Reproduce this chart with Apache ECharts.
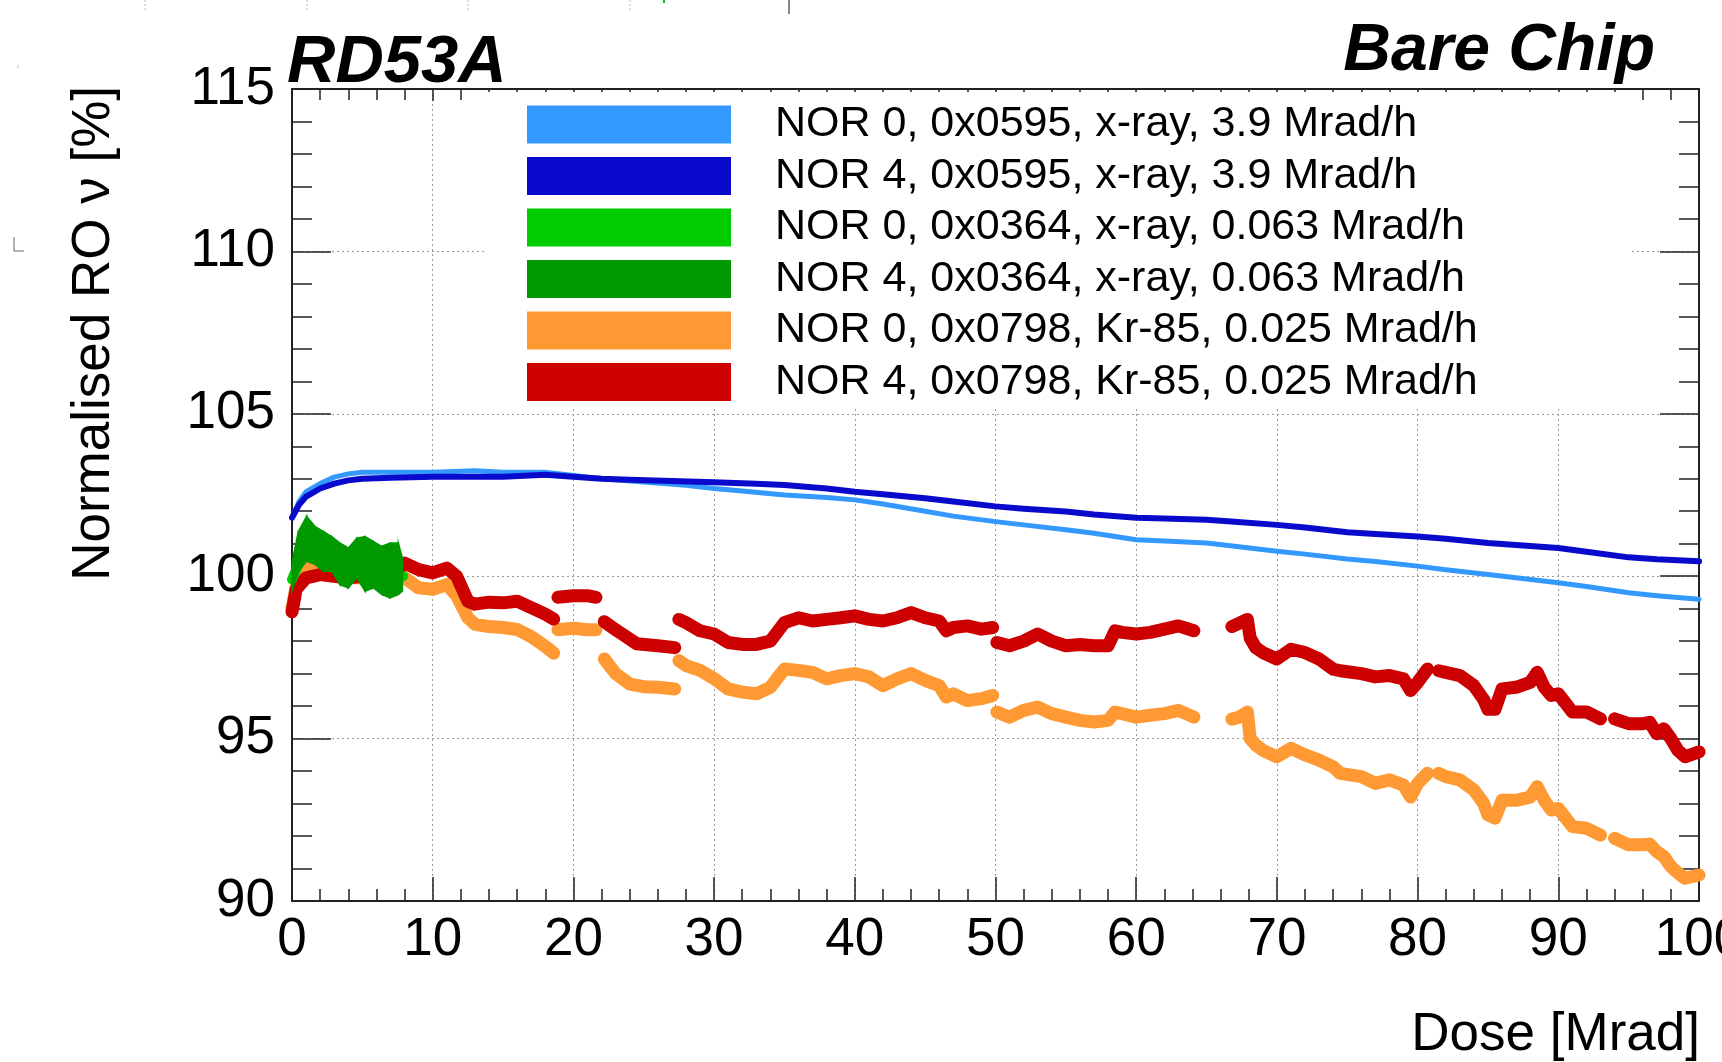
<!DOCTYPE html>
<html lang="en" style="height: 100%">

<head>
  <meta charset="utf-8">
</head>

<body style="height: 100%; margin: 0; background: #ffffff">
<div id="container" style="height: 100%"></div>
<script type="text/javascript" src="https://cdn.jsdelivr.net/npm/echarts@6/dist/echarts.min.js"></script>

<script type="text/javascript">
  // values: [dose Mrad, normalised RO frequency %], '-' = gap in the data
  var legendNames = [
    'NOR 0, 0x0595, x-ray, 3.9 Mrad/h',
    'NOR 4, 0x0595, x-ray, 3.9 Mrad/h',
    'NOR 0, 0x0364, x-ray, 0.063 Mrad/h',
    'NOR 4, 0x0364, x-ray, 0.063 Mrad/h',
    'NOR 0, 0x0798, Kr-85, 0.025 Mrad/h',
    'NOR 4, 0x0798, Kr-85, 0.025 Mrad/h'
  ];

  var nor0x0595 = [
    [0, 101.8], [0.5, 102.3], [1, 102.6], [2, 102.85], [3, 103.05], [4, 103.15], [5, 103.2], [7, 103.2],
    [10, 103.2], [13, 103.25], [15, 103.2], [18, 103.2], [20, 103.1], [22, 103.0], [25, 102.9], [28, 102.8],
    [30, 102.7], [32, 102.62], [35, 102.5], [38, 102.42], [40, 102.35], [42, 102.22], [45, 102.0], [47, 101.85],
    [50, 101.68], [52, 101.58], [55, 101.43], [57, 101.32], [60, 101.12], [62, 101.08], [65, 101.02], [67, 100.92],
    [70, 100.77], [72, 100.68], [75, 100.53], [77, 100.45], [80, 100.31], [82, 100.2], [85, 100.05], [87, 99.95],
    [90, 99.8], [92, 99.68], [95, 99.49], [97, 99.4], [100, 99.29]
  ];

  var nor4x0595 = [
    [0, 101.8], [0.5, 102.2], [1, 102.45], [2, 102.7], [3, 102.85], [4, 102.95], [5, 103.0], [7, 103.03],
    [10, 103.06], [13, 103.06], [15, 103.06], [18, 103.12], [20, 103.06], [22, 103.0], [24, 102.97], [27, 102.93],
    [30, 102.89], [33, 102.85], [35, 102.81], [38, 102.7], [40, 102.6], [42, 102.52], [45, 102.4], [47, 102.3],
    [50, 102.15], [52, 102.08], [55, 101.99], [57, 101.9], [60, 101.8], [62, 101.78], [65, 101.74], [67, 101.68],
    [70, 101.58], [72, 101.5], [75, 101.35], [77, 101.3], [80, 101.22], [82, 101.15], [85, 101.02], [87, 100.96],
    [90, 100.87], [92, 100.75], [95, 100.58], [97, 100.52], [100, 100.46]
  ];

  var nor0x0364 = [
    [0, 99.9], [0.5, 100.4], [1, 100.7], [2, 100.6], [3, 100.4], [4, 100.2], [5, 100.3], [6, 100.1], [7, 100.0], [7.9, 100.0]
  ];

  // NOR 4, 0x0364 is a wide noisy cloud: read as upper and lower edges
  var nor4x0364Dose = [0, 0.45, 1.04, 1.64, 2.23, 2.82, 3.41, 4.01, 4.6, 5.19, 5.79, 6.38, 6.97, 7.56, 7.85];
  var nor4x0364High = [100.41, 101.38, 101.84, 101.53, 101.38, 101.22, 101.02, 100.87, 101.17, 101.22, 101.07, 100.92, 101.02, 101.02, 100.56];
  var nor4x0364Low = [99.54, 100.15, 100.46, 100.36, 100.15, 100.15, 99.74, 99.64, 99.95, 99.54, 99.64, 99.44, 99.33, 99.44, 99.54];

  var nor0x0798 = [
    [0, 99.0], [0.3, 99.7], [1, 100.25], [2, 100.1], [3, 100.0], [4, 99.95], [5, 99.95], [6, 99.9], [7, 99.95],
    [8, 99.95], [9, 99.64], [10, 99.6], [11, 99.74], [11.7, 99.4], [12.5, 98.72], [13, 98.52], [14, 98.45],
    [15, 98.42], [16, 98.36], [17, 98.14], [18, 97.84], [18.6, 97.63], [18.75, '-'],
    [18.9, 98.35], [20, 98.4], [21, 98.35], [21.6, 98.35], [21.9, '-'],
    [22.2, 97.45], [23, 97.0], [24, 96.68], [25, 96.6], [26, 96.58], [27.2, 96.53], [27.35, '-'],
    [27.5, 97.4], [28, 97.25], [29, 97.1], [30, 96.85], [31, 96.53], [32, 96.43], [33, 96.38], [34, 96.58],
    [35, 97.14], [36, 97.1], [37, 97.04], [38, 96.84], [39, 96.94], [40, 97.0], [41, 96.9], [42, 96.63],
    [43, 96.84], [44, 97.0], [45, 96.79], [46, 96.63], [46.5, 96.28], [47, 96.38], [48, 96.17], [49, 96.23],
    [49.8, 96.33], [49.95, '-'],
    [50.1, 95.82], [51, 95.66], [52, 95.87], [53, 95.97], [54, 95.77], [55, 95.66], [56, 95.56], [57, 95.51],
    [58, 95.56], [58.5, 95.82], [60, 95.66], [61, 95.72], [62, 95.77], [63, 95.87], [64.1, 95.66], [65.5, '-'],
    [66.8, 95.6], [67.3, 95.66], [67.9, 95.82], [68.1, 95.0], [68.5, 94.8], [69, 94.64], [70, 94.44], [71, 94.7],
    [72, 94.5], [73, 94.34], [74, 94.13], [74.5, 93.93], [76, 93.83], [77, 93.62], [78, 93.73], [79, 93.57],
    [79.5, 93.2], [80, 93.62], [80.7, 93.93], [81.1, '-'],
    [81.5, 93.93], [82, 93.83], [83, 93.73], [84, 93.42], [84.7, 93.0], [85, 92.65], [85.5, 92.55], [86, 93.1],
    [87, 93.1], [88, 93.2], [88.5, 93.52], [89, 93.1], [89.5, 92.8], [90, 92.85], [91, 92.29], [92, 92.24],
    [93, 92.03], [93.5, '-'],
    [94, 91.93], [95, 91.73], [96, 91.73], [96.5, 91.75], [97, 91.52], [97.5, 91.37], [98, 91.06], [98.5, 90.86],
    [99, 90.7], [100, 90.8]
  ];

  var nor4x0798 = [
    [0, 98.9], [0.3, 99.6], [1, 99.95], [2, 100.05], [3, 100.0], [4, 99.95], [5, 100.0], [6, 99.95], [7, 100.0],
    [8, 100.4], [9, 100.2], [10, 100.1], [11, 100.25], [11.7, 100.0], [12.5, 99.23], [13, 99.14], [14, 99.2],
    [15, 99.18], [16, 99.23], [17, 99.03], [18, 98.83], [18.6, 98.68], [18.75, '-'],
    [18.9, 99.35], [20, 99.4], [21, 99.4], [21.6, 99.35], [21.9, '-'],
    [22.2, 98.6], [23, 98.35], [23.5, 98.21], [24.5, 97.92], [26, 97.86], [27.2, 97.8], [27.35, '-'],
    [27.5, 98.67], [28, 98.57], [29, 98.32], [30, 98.22], [31, 97.96], [32, 97.9], [33, 97.9], [34, 98.0],
    [35, 98.57], [36, 98.72], [37, 98.62], [38, 98.67], [39, 98.72], [40, 98.78], [41, 98.67], [42, 98.62],
    [43, 98.72], [44, 98.88], [45, 98.72], [46, 98.62], [46.5, 98.32], [47, 98.42], [48, 98.47], [49, 98.37],
    [49.8, 98.42], [49.95, '-'],
    [50.1, 97.96], [51, 97.86], [52, 98.0], [53, 98.22], [54, 98.0], [55, 97.86], [56, 97.9], [57, 97.86],
    [58, 97.86], [58.5, 98.32], [59, 98.27], [60, 98.22], [61, 98.27], [62, 98.37], [63, 98.47], [64.1, 98.32],
    [65.5, '-'],
    [66.8, 98.45], [67.3, 98.55], [67.9, 98.67], [68.1, 98.1], [68.5, 97.8], [69, 97.65], [70, 97.45], [71, 97.75],
    [72, 97.65], [73, 97.45], [74, 97.14], [74.5, 97.09], [76, 97.0], [77, 96.9], [78, 96.94], [79, 96.84],
    [79.5, 96.48], [80, 96.73], [80.7, 97.14], [81.1, '-'],
    [81.5, 97.09], [82, 97.04], [83, 96.94], [84, 96.63], [84.7, 96.2], [85, 95.9], [85.5, 95.9], [86, 96.53],
    [87, 96.58], [88, 96.73], [88.5, 97.04], [89, 96.58], [89.5, 96.33], [90, 96.38], [91, 95.82], [92, 95.82],
    [93, 95.61], [93.5, '-'],
    [94, 95.61], [95, 95.46], [96, 95.46], [96.5, 95.5], [97, 95.15], [97.5, 95.3], [98, 95.0], [98.5, 94.64],
    [99, 94.44], [100, 94.59]
  ];

  var colors = ['#3399ff', '#0a0acc', '#00cc00', '#009900', '#ff9933', '#cc0000'];

  var dom = document.getElementById('container');
  var myChart = echarts.init(dom, null, { renderer: 'canvas' });

  var font = '"Liberation Sans", Arial, Helvetica, sans-serif';
  var axisColor = '#222';
  var gridLine = { show: true, lineStyle: { color: '#999', width: 1, type: [2, 3] } };

  function lineSeries(name, data, color, width) {
    return {
      name: name,
      type: 'line',
      data: data,
      color: color,
      symbol: 'none',
      connectNulls: false,
      lineStyle: { color: color, width: width, cap: 'round', join: 'round' },
      silent: true
    };
  }

  var greenBand = nor4x0364Dose.map(function (d, i) { return [d, nor4x0364Low[i], nor4x0364High[i]]; });

  // one quad per step between the lower and upper edge
  function renderBand(params, api) {
    var i = params.dataIndex;
    if (i >= nor4x0364Dose.length - 1) return;
    var lo0 = api.coord([api.value(0), api.value(1)]);
    var hi0 = api.coord([api.value(0), api.value(2)]);
    var lo1 = api.coord([nor4x0364Dose[i + 1], nor4x0364Low[i + 1]]);
    var hi1 = api.coord([nor4x0364Dose[i + 1], nor4x0364High[i + 1]]);
    return {
      type: 'polygon',
      shape: { points: [lo0, hi0, hi1, lo1] },
      style: { fill: colors[3], stroke: colors[3], lineWidth: 1.5 }
    };
  }

  var option = {
    backgroundColor: '#ffffff',
    animation: false,
    textStyle: { fontFamily: font },
    grid: { left: 292, right: 23, top: 89, bottom: 161, containLabel: false, outerBoundsMode: 'none' },
    legend: {
      data: legendNames,
      orient: 'vertical',
      left: 485,
      top: 92,
      padding: [11, 152, 4, 42],
      backgroundColor: '#ffffff',
      icon: 'rect',
      itemWidth: 204,
      itemHeight: 38,
      itemGap: 8.5,
      selectedMode: false,
      textStyle: { fontFamily: font, fontSize: 43, color: '#000', padding: [0, 0, 0, 39] }
    },
    xAxis: [
      {
        type: 'value', min: 0, max: 100, interval: 10,
        axisLine: { onZero: false, lineStyle: { color: axisColor, width: 2 } },
        axisTick: { inside: true, length: 24, lineStyle: { color: axisColor, width: 1.5 } },
        minorTick: { show: true, splitNumber: 5, length: 12, lineStyle: { color: axisColor, width: 1.5 } },
        axisLabel: { fontSize: 53, color: '#000', fontFamily: font, margin: 13, alignMaxLabel: 'center', alignMinLabel: 'center', hideOverlap: false },
        splitLine: gridLine
      },
      {
        type: 'value', min: 0, max: 100, interval: 10, position: 'top',
        axisLine: { onZero: false, lineStyle: { color: axisColor, width: 2 } },
        axisTick: { inside: true, length: 12, lineStyle: { color: axisColor, width: 1.5 } },
        minorTick: { show: true, splitNumber: 5, length: 11, lineStyle: { color: axisColor, width: 1.5 } },
        axisLabel: { show: false },
        splitLine: { show: false }
      }
    ],
    yAxis: [
      {
        type: 'value', min: 90, max: 115, interval: 5,
        axisLine: { show: true, onZero: false, lineStyle: { color: axisColor, width: 2 } },
        axisTick: { show: true, inside: true, length: 39, lineStyle: { color: axisColor, width: 1.5 } },
        minorTick: { show: true, splitNumber: 5, length: 20, lineStyle: { color: axisColor, width: 1.5 } },
        axisLabel: { fontSize: 53, color: '#000', fontFamily: font, margin: 17 },
        splitLine: gridLine
      },
      {
        type: 'value', min: 90, max: 115, interval: 5, position: 'right',
        axisLine: { show: true, onZero: false, lineStyle: { color: axisColor, width: 2 } },
        axisTick: { show: true, inside: true, length: 39, lineStyle: { color: axisColor, width: 1.5 } },
        minorTick: { show: true, splitNumber: 5, length: 20, lineStyle: { color: axisColor, width: 1.5 } },
        axisLabel: { show: false },
        splitLine: { show: false }
      }
    ],
    series: [
      lineSeries(legendNames[0], nor0x0595, colors[0], 5),
      lineSeries(legendNames[1], nor4x0595, colors[1], 6),
      lineSeries(legendNames[4], nor0x0798, colors[4], 13),
      lineSeries(legendNames[5], nor4x0798, colors[5], 13),
      lineSeries(legendNames[2], nor0x0364, colors[2], 10),
      {
        name: legendNames[3],
        type: 'custom',
        z: 5,
        data: greenBand,
        encode: { x: 0, y: [1, 2] },
        itemStyle: { color: colors[3] },
        renderItem: renderBand,
        silent: true
      }
    ],
    graphic: [
      {
        type: 'text', left: 287, top: 30,
        style: { text: 'RD53A', font: 'italic bold 67px ' + font, fill: '#000' }
      },
      {
        type: 'text', x: 1655, y: 52,
        style: { text: 'Bare Chip', font: 'italic bold 66px ' + font, fill: '#000', textAlign: 'right', textVerticalAlign: 'middle' }
      },
      {
        type: 'text', x: 1700, y: 1035,
        style: { text: 'Dose [Mrad]', font: '53px ' + font, fill: '#000', textAlign: 'right', textVerticalAlign: 'middle' }
      },
      {
        type: 'text', x: 94, y: 86, rotation: Math.PI / 2,
        style: { text: 'Normalised RO \u03bd [%]', font: '53px ' + font, fill: '#000', textAlign: 'right', textVerticalAlign: 'middle' }
      },
      // leftovers of the neighbouring plot at the crop edges
      { type: 'line', shape: { x1: 145, y1: 0, x2: 145, y2: 12 }, style: { stroke: '#bbb', lineWidth: 1, lineDash: [2, 2] } },
      { type: 'line', shape: { x1: 307, y1: 0, x2: 307, y2: 12 }, style: { stroke: '#bbb', lineWidth: 1, lineDash: [2, 2] } },
      { type: 'line', shape: { x1: 468, y1: 0, x2: 468, y2: 12 }, style: { stroke: '#bbb', lineWidth: 1, lineDash: [2, 2] } },
      { type: 'line', shape: { x1: 630, y1: 0, x2: 630, y2: 12 }, style: { stroke: '#bbb', lineWidth: 1, lineDash: [2, 2] } },
      { type: 'line', shape: { x1: 664, y1: 0, x2: 664, y2: 3 }, style: { stroke: '#00cc00', lineWidth: 2 } },
      { type: 'line', shape: { x1: 789, y1: 0, x2: 789, y2: 14 }, style: { stroke: '#888', lineWidth: 2 } },
      { type: 'line', shape: { x1: 18, y1: 65, x2: 18, y2: 69 }, style: { stroke: '#aaa', lineWidth: 1, lineDash: [1, 1] } },
      { type: 'polyline', shape: { points: [[14, 237], [14, 251], [24, 251]] }, style: { stroke: '#666', lineWidth: 1, fill: null } }
    ]
  };

  myChart.setOption(option);
  window.addEventListener('resize', myChart.resize);
</script>
</body>

</html>
